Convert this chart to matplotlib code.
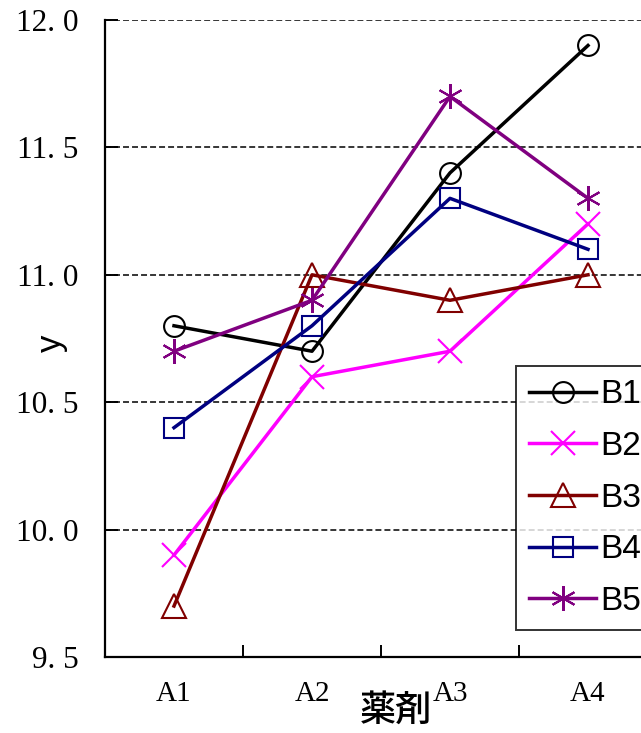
import numpy as np
import matplotlib.pyplot as plt
from matplotlib.ticker import FixedLocator, NullFormatter

categories = ['A1', 'A2', 'A3', 'A4']
b1 = [10.8, 10.7, 11.4, 11.9]
b2 = [9.9, 10.6, 10.7, 11.2]
b3 = [9.7, 11.0, 10.9, 11.0]
b4 = [10.4, 10.8, 11.3, 11.1]
b5 = [10.7, 10.9, 11.7, 11.3]
yticks = [9.5, 10.0, 10.5, 11.0, 11.5, 12.0]
ytick_labels = ['9. 5', '10. 0', '10. 5', '11. 0', '11. 5', '12. 0']

series = [
    ('B1', b1, 'black', 'o', 15),
    ('B2', b2, '#ff00ff', 'x', 17),
    ('B3', b3, '#800000', '^', 17),
    ('B4', b4, '#000080', 's', 15),
    ('B5', b5, '#800080', (6, 2, 0), 18),
]

W, H = 641, 733
fig = plt.figure(figsize=(W / 100, H / 100), dpi=100)
ax = fig.add_axes([105 / W, 1 - 657 / H, 552 / W, 637 / H])

xs = np.arange(1, len(categories) + 1)
for name, ys, color, mk, ms in series:
    ax.plot(xs, ys, color=color, lw=2.5, marker=mk, markersize=ms,
            markerfacecolor='none', markeredgecolor=color, markeredgewidth=1.5,
            label=name)

serif = ['DejaVu Serif Condensed', 'Liberation Serif']
ax.set_xlim(0.5, 4.5)
ax.set_ylim(9.5, 12.0)
ax.set_xticks(xs)
ax.set_xticklabels(categories, family=serif, fontsize=21)
ax.xaxis.set_minor_locator(FixedLocator([1.5, 2.5, 3.5]))
ax.xaxis.set_minor_formatter(NullFormatter())
ax.tick_params(axis='x', which='major', length=0, pad=17)
ax.tick_params(axis='x', which='minor', direction='in', length=9, width=1.4)
ax.set_yticks(yticks)
ax.set_yticklabels(ytick_labels, family='Liberation Serif', fontsize=22.5)
ax.tick_params(axis='y', direction='in', length=9, width=1.4, pad=19)

for s in ['top', 'right']:
    ax.spines[s].set_visible(False)
for s in ['left', 'bottom']:
    ax.spines[s].set_linewidth(1.6)

ax.grid(axis='y', color='black', linestyle=(0, (3.9, 2.0)), linewidth=1.1)
ax.set_axisbelow(True)

fig.text(51 / W, 1 - 343 / H, 'y', rotation=90, fontsize=25,
         family='Liberation Sans', ha='center', va='center')
fig.text(396 / W, 1 - 711 / H, '薬剤', fontsize=26, fontweight='medium',
         family=['Noto Sans CJK JP', 'DejaVu Sans'], ha='center', va='center')

leg = ax.legend(loc='upper left', bbox_to_anchor=(516 / W, 1 - 366 / H),
                bbox_transform=fig.transFigure, frameon=True, fancybox=False,
                prop={'family': ['Liberation Sans Narrow', 'Liberation Sans'], 'size': 24},
                handlelength=2.0, handletextpad=0.12, labelspacing=0.62,
                borderpad=0.4, borderaxespad=0)
leg.get_frame().set_edgecolor('black')
leg.get_frame().set_linewidth(1.4)

fig.savefig('out.png', dpi=100)
